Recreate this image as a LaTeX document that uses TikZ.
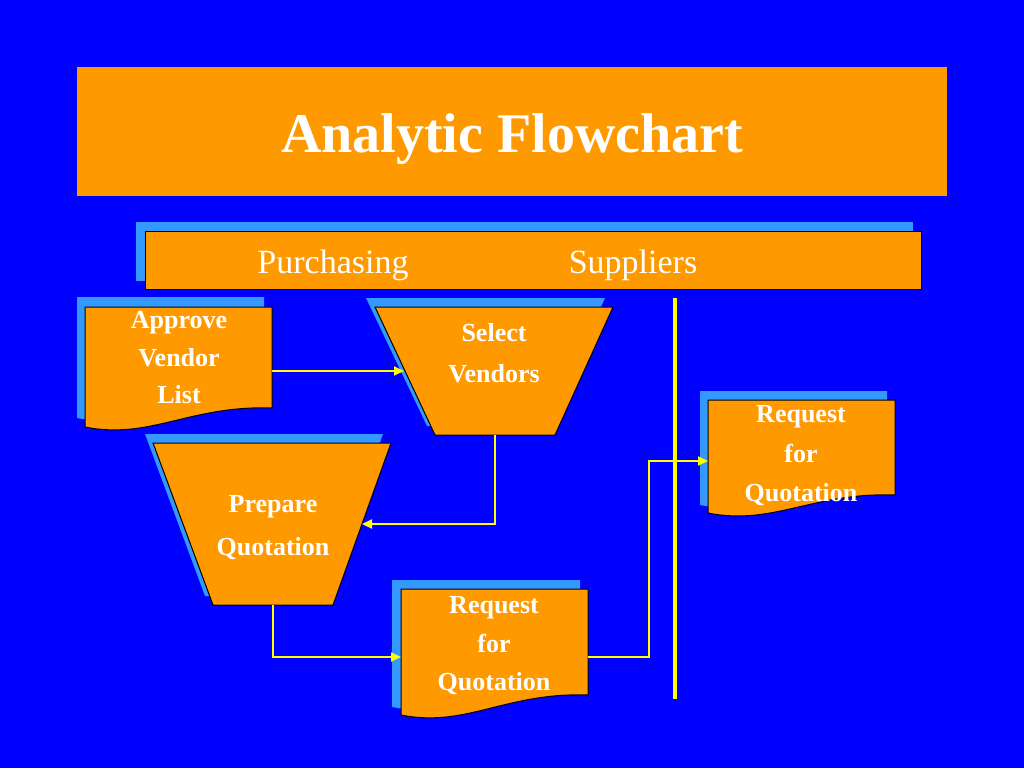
\documentclass[tikz,border=0pt]{standalone}
\usepackage{fontspec}
\setmainfont{Liberation Serif}
\usetikzlibrary{arrows.meta}
\definecolor{bg}{HTML}{0000FF}
\definecolor{org}{HTML}{FF9900}
\definecolor{shd}{HTML}{3399FF}
\definecolor{yel}{HTML}{FFFF00}
\newcommand\docpath[5]{(#1,#2) -- (#3,#2) -- (#3,#5) .. controls ({#1+0.56*(#3-#1)},{#5-3}) and ({#1+0.35*(#3-#1)},{#4+13}) .. (#1,#4) -- cycle}
\tikzset{
  shadowfill/.style={fill=shd, draw=none},
  shapefill/.style={fill=org, draw=black, line width=1pt},
  lbl/.style={text=white, font=\bfseries\fontsize{26}{38}\selectfont, align=center, inner sep=0pt},
  hdr/.style={text=white, font=\fontsize{34}{40}\selectfont, inner sep=0pt},
  conn/.style={draw=yel, line width=2pt, -{Triangle[length=10pt,width=9pt]}},
  divider/.style={draw=yel, line width=3.5pt},
}
\begin{document}
\begin{tikzpicture}[x=1pt,y=-1pt]
\fill[bg] (0,0) rectangle (1024,768);
\useasboundingbox (0,0) rectangle (1024,768);

% title
\fill[org] (77,67) rectangle (947,196);
\node[text=white, font=\bfseries\fontsize{56}{60}\selectfont, inner sep=0pt] (title) at (512,139) {Analytic Flowchart};

% header bar
\fill[shadowfill] (136,222) rectangle (913,281);
\draw[shapefill] (145,231) rectangle (921,289);
\node[hdr] (purch) at (333,265) {Purchasing};
\node[hdr] (supp) at (633,265) {Suppliers};

% divider
\coordinate (divtop) at (675,298);
\coordinate (divbot) at (675,699);
\draw[divider] (divtop) -- (divbot);

% Approve Vendor List (document)
\fill[shadowfill] \docpath{77}{297}{264}{418}{399};
\draw[shapefill] \docpath{85}{307}{272}{427}{408};
\node[lbl, font=\bfseries\fontsize{26}{37.5}\selectfont] (avl) at (179,358) {Approve\\Vendor\\List};
\coordinate (avl-out) at (272,371);

% Select Vendors (trapezoid)
\fill[shadowfill] (366,298) -- (605,298) -- (547,426) -- (427,426) -- cycle;
\draw[shapefill] (375,307) -- (613,307) -- (555,435) -- (435,435) -- cycle;
\node[lbl, font=\bfseries\fontsize{26}{41}\selectfont] (sv) at (494,353) {Select\\Vendors};
\coordinate (sv-in) at (404,371);
\coordinate (sv-bot) at (495,435);

% Prepare Quotation (trapezoid)
\fill[shadowfill] (145,434) -- (383,434) -- (325,596) -- (205,596) -- cycle;
\draw[shapefill] (153,443) -- (391,443) -- (333,605) -- (213,605) -- cycle;
\node[lbl, font=\bfseries\fontsize{26}{43}\selectfont] (pq) at (273,528) {Prepare\\Quotation};
\coordinate (pq-in) at (362,524);
\coordinate (pq-bot) at (273,605);

% Request for Quotation (lower document)
\fill[shadowfill] \docpath{392}{580}{580}{707}{687};
\draw[shapefill] \docpath{401}{589}{588}{715}{695};
\node[lbl, font=\bfseries\fontsize{26}{38.5}\selectfont] (rq1) at (494,646) {Request\\for\\Quotation};
\coordinate (rq1-in) at (401,657);
\coordinate (rq1-out) at (588,657);

% Request for Quotation (upper right document)
\fill[shadowfill] \docpath{700}{391}{887}{505}{487};
\draw[shapefill] \docpath{708}{400}{895}{513}{495};
\node[lbl, font=\bfseries\fontsize{26}{39.5}\selectfont] (rq2) at (801,456) {Request\\for\\Quotation};
\coordinate (rq2-in) at (708,461);

% connectors
\draw[conn] (avl-out) -- (sv-in);
\draw[conn] (sv-bot) |- (pq-in);
\draw[conn] (pq-bot) |- (rq1-in);
\draw[conn] (rq1-out) -- ++(61,0) |- (rq2-in);
\end{tikzpicture}
\end{document}
